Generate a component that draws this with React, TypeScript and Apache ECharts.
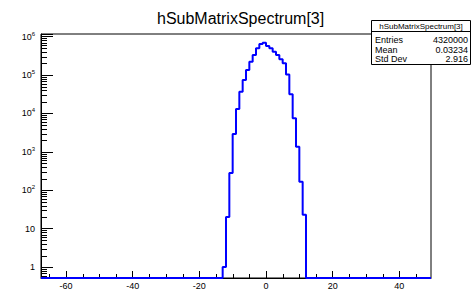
import React, { useEffect, useRef } from "react";
import * as echarts from "echarts";

const chartTitle = "hSubMatrixSpectrum[3]";
// lower edges of the histogram bins (width 1)
const binLowEdges = [-13, -12, -11, -10, -9, -8, -7, -6, -5, -4, -3, -2, -1, 0, 1, 2, 3, 4, 5, 6, 7, 8, 9, 10, 11];
const binWidth = 1;
const counts = [1, 20, 281, 2910, 13000, 36700, 74100, 135000, 222000, 332000, 496000, 642000, 694000, 569000, 496000, 404000, 332000, 256000, 202000, 104000, 31400, 7450, 1360, 166, 23];

const xMajorTicks = [-60, -40, -20, 0, 20, 40];
const xMinorTicks = [-65, -55, -50, -45, -35, -30, -25, -15, -10, -5, 5, 10, 15, 25, 30, 35, 45];
const yDecades = [-1, 0, 1, 2, 3, 4, 5, 6];

const statsTitle = "hSubMatrixSpectrum[3]";
const statLabels = ["Entries", "Mean", "Std Dev"];
const statValues = ["4320000", "0.03234", "2.916"];

const X_MIN = -67.5;
const X_MAX = 49.5;
const Y_MIN = 0.52;
const Y_MAX = 1.17e6;

export default function App() {
  const ref = useRef<HTMLDivElement>(null);
  useEffect(() => {
    document.body.style.margin = "0";
    const chart = echarts.init(ref.current!, null, { renderer: "svg" });
    const font = "'Liberation Sans', Arial, Helvetica, sans-serif";

    const stepData: number[][] = [[X_MIN, Y_MIN]];
    binLowEdges.forEach((e, i) => stepData.push([e, Math.max(counts[i], Y_MIN)]));
    stepData.push([binLowEdges[binLowEdges.length - 1] + binWidth, Y_MIN]);
    stepData.push([X_MAX, Y_MIN]);

    const yMinor: number[][] = [];
    yDecades.forEach((d) => {
      for (let m = 2; m <= 9; m++) {
        const v = m * Math.pow(10, d);
        if (v > Y_MIN && v < Y_MAX) yMinor.push([X_MIN, v]);
      }
    });

    const labelFmt = (v: number) => {
      const lg = Math.log10(v);
      const e = Math.round(lg);
      if (Math.abs(lg - e) > 1e-6) return "";
      if (e === 0) return "1";
      if (e === 1) return "10";
      return "{b|10}{s|" + e + "}";
    };

    const stats: any[] = [
      {
        type: "rect",
        shape: { x: 371.5, y: 20.5, width: 99, height: 44 },
        style: { fill: "#fff", stroke: "#000", lineWidth: 1 },
        z: 100,
      },
      {
        type: "line",
        shape: { x1: 371.5, y1: 31.5, x2: 470.5, y2: 31.5 },
        style: { stroke: "#000", lineWidth: 1 },
        z: 101,
      },
      {
        type: "text",
        x: 421,
        y: 26,
        style: { text: statsTitle, fontSize: 8, fontFamily: font, fill: "#000", align: "center", verticalAlign: "middle" },
        z: 101,
      },
    ];
    statLabels.forEach((l, i) => {
      const y = 40 + i * 9.5;
      stats.push({
        type: "text",
        x: 375,
        y,
        style: { text: l, fontSize: 9, fontFamily: font, fill: "#000", align: "left", verticalAlign: "middle" },
        z: 101,
      });
      stats.push({
        type: "text",
        x: 468,
        y,
        style: { text: statValues[i], fontSize: 9, fontFamily: font, fill: "#000", align: "right", verticalAlign: "middle" },
        z: 101,
      });
    });

    chart.setOption({
      animation: false,
      backgroundColor: "#fff",
      title: {
        text: chartTitle,
        left: 152,
        top: 5,
        textStyle: { fontSize: 16, fontWeight: "normal", fontFamily: font, color: "#000" },
      },
      grid: {
        left: 41,
        top: 34,
        width: 390,
        height: 244,
        show: true,
        borderColor: "#000",
        borderWidth: 1,
        backgroundColor: "transparent",
      },
      xAxis: {
        type: "value",
        min: X_MIN,
        max: X_MAX,
        axisLine: { show: true, onZero: false, lineStyle: { color: "#000", width: 1 } },
        axisTick: { show: true, inside: true, length: 7, customValues: xMajorTicks, lineStyle: { color: "#000" } },
        axisLabel: {
          customValues: xMajorTicks,
          formatter: (v: number) => String(v),
          margin: 3,
          fontSize: 9,
          fontFamily: font,
          color: "#000",
        },
        splitLine: { show: false },
      },
      yAxis: {
        type: "log",
        logBase: 10,
        min: Y_MIN,
        max: Y_MAX,
        axisLine: { show: true, onZero: false, lineStyle: { color: "#000", width: 1 } },
        axisTick: { show: true, inside: true, length: 12, lineStyle: { color: "#000" } },
        splitLine: { show: false },
        axisLabel: {
          formatter: labelFmt,
          margin: 6,
          fontSize: 9,
          fontFamily: font,
          color: "#000",
          rich: {
            b: { fontSize: 9, fontFamily: font, color: "#000", lineHeight: 12 },
            s: { fontSize: 6, fontFamily: font, color: "#000", verticalAlign: "top", lineHeight: 12 },
          },
        },
      },
      series: [
        {
          type: "line",
          data: stepData,
          step: "end",
          showSymbol: false,
          symbol: "none",
          clip: false,
          lineStyle: { color: "#0000ff", width: 2 },
          z: 5,
        },
        {
          type: "custom",
          silent: true,
          clip: false,
          data: yMinor,
          renderItem: (params: any, api: any) => {
            const p = api.coord([api.value(0), api.value(1)]);
            const y = Math.round(p[1]) + 0.5;
            return {
              type: "line",
              shape: { x1: p[0], y1: y, x2: p[0] + 6, y2: y },
              style: { stroke: "#000", lineWidth: 1 },
            };
          },
          z: 3,
        },
        {
          type: "custom",
          silent: true,
          clip: false,
          data: xMinorTicks.map((v) => [v, Y_MIN]),
          renderItem: (params: any, api: any) => {
            const p = api.coord([api.value(0), api.value(1)]);
            const x = Math.round(p[0]) + 0.5;
            return {
              type: "line",
              shape: { x1: x, y1: p[1], x2: x, y2: p[1] - 4 },
              style: { stroke: "#000", lineWidth: 1 },
            };
          },
          z: 3,
        },
      ],
      graphic: stats,
    });
    return () => chart.dispose();
  }, []);
  return <div ref={ref} style={{ width: 474, height: 294 }} />;
}
